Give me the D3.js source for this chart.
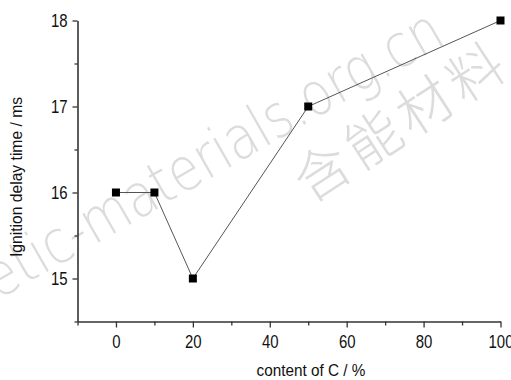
<!DOCTYPE html>
<html>
<head>
<meta charset="utf-8">
<script src="https://cdn.jsdelivr.net/npm/d3@7"></script>
<style>
  body { margin: 0; background: #fff; }
  text { font-family: "Liberation Sans", Arial, sans-serif; }
</style>
</head>
<body>
<div id="canvas"></div>
<script>
// data
const content = [0, 10, 20, 50, 100];
const delay = [16, 16, 15, 17, 18];
const xTicks = [0, 20, 40, 60, 80, 100];
const xMinor = [-10, 10, 30, 50, 70, 90];
const yTicks = [15, 16, 17, 18];
const yMinor = [14.5, 15.5, 16.5, 17.5];

const width = 511;
const height = 380;

const svg = d3.select("#canvas").append("svg")
  .attr("width", width)
  .attr("height", height);

// watermark
svg.append("text")
  .attr("transform", "translate(-2,300) rotate(-29.8)")
  .attr("textLength", 518)
  .attr("lengthAdjust", "spacingAndGlyphs")
  .style("font-family", "'DejaVu Sans', sans-serif")
  .style("font-weight", 200)
  .style("font-size", "60px")
  .style("fill", "#dcdcdc")
  .text("etic-materials.org.cn");

svg.append("text")
  .attr("transform", "translate(310,204) rotate(-33)")
  .style("font-family", "'Noto Sans CJK SC', sans-serif")
  .style("font-weight", 300)
  .style("font-size", "55px")
  .style("fill", "#dcdcdc")
  .style("letter-spacing", "6px")
  .text("含能材料");

const x = d3.scaleLinear().domain([-10, 100]).range([77.5, 500.5]);
const y = d3.scaleLinear().domain([14.5, 18]).range([321.5, 20.5]);

const axisColor = "#333";

// x axis
const gx = svg.append("g").attr("transform", `translate(0,${y(14.5)})`);
gx.call(d3.axisBottom(x).tickValues(xTicks).tickSize(6).tickSizeOuter(0).tickPadding(8));
gx.append("g").call(d3.axisBottom(x).tickValues(xMinor).tickSize(4).tickFormat(""))
  .select(".domain").remove();

// y axis
const gy = svg.append("g").attr("transform", `translate(${x(-10)},0)`);
gy.call(d3.axisLeft(y).tickValues(yTicks).tickSize(5).tickSizeOuter(0).tickPadding(7)
  .tickFormat(d3.format("d")));
gy.append("g").call(d3.axisLeft(y).tickValues(yMinor).tickSize(3).tickFormat(""))
  .select(".domain").remove();

svg.selectAll(".domain").attr("stroke", axisColor).attr("stroke-width", 1.6);
svg.selectAll(".tick line").attr("stroke", axisColor).attr("stroke-width", 1.3);
svg.selectAll(".tick text")
  .style("font-size", "18px")
  .attr("transform", "scale(0.83,1)")
  .attr("fill", "#111");

// axis titles
svg.append("text")
  .attr("x", 311).attr("y", 376)
  .attr("text-anchor", "middle")
  .attr("textLength", 109)
  .attr("lengthAdjust", "spacingAndGlyphs")
  .style("font-size", "16px")
  .attr("fill", "#111")
  .text("content of C / %");

svg.append("text")
  .attr("transform", "translate(22,177) rotate(-90)")
  .attr("text-anchor", "middle")
  .attr("textLength", 160)
  .attr("lengthAdjust", "spacingAndGlyphs")
  .style("font-size", "16.5px")
  .attr("fill", "#111")
  .text("Ignition delay time / ms");

// series
const pts = content.map((c, i) => ({ c: c, v: delay[i] }));

svg.append("path")
  .datum(pts)
  .attr("fill", "none")
  .attr("stroke", "#555")
  .attr("stroke-width", 1)
  .attr("d", d3.line().x(d => x(d.c)).y(d => y(d.v)));

svg.selectAll("rect.pt")
  .data(pts)
  .enter()
  .append("rect")
  .attr("class", "pt")
  .attr("x", d => x(d.c) - 4)
  .attr("y", d => y(d.v) - 4)
  .attr("width", 8)
  .attr("height", 8)
  .attr("fill", "#000");
</script>
</body>
</html>
